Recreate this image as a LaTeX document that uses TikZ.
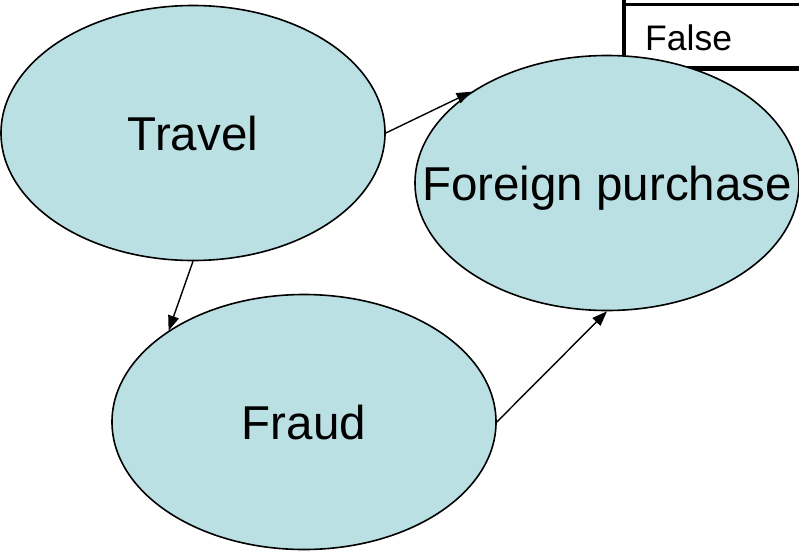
\documentclass[tikz,border=0pt]{standalone}
\usepackage{fontspec}
\setmainfont{Liberation Sans}
\usetikzlibrary{shapes.geometric,arrows.meta}
\definecolor{nodefill}{RGB}{186,224,227}
\tikzset{
  varnode/.style={ellipse, draw=black, line width=1.6pt, fill=nodefill,
    minimum width=384pt, minimum height=255pt, inner sep=0pt},
  varlabel/.style={inner sep=0pt, text height=34pt, text depth=0pt,
    font=\fontsize{47.5pt}{50pt}\selectfont},
  link/.style={line width=1.4pt, -{Triangle[length=15pt,width=11pt]}},
  cellrule/.style={line width=#1},
}
\begin{document}
\begin{tikzpicture}[x=1pt,y=-1pt]
  \useasboundingbox (0,0) rectangle (799,552);
  % table cell in the top right corner
  \draw[cellrule=2.5pt] (624,4.7) -- (799,4.7);
  \draw[cellrule=4pt] (624,0) -- (624,70);
  \draw[cellrule=4.5pt] (622,68.3) -- (799,68.3);
  \node[anchor=base west, inner sep=0pt, font=\fontsize{35.5pt}{38pt}\selectfont] (cellF) at (645,50) {False};
  % variables
  \node[varnode] (travel) at (193,133) {};
  \node[varnode] (foreign) at (607,183) {};
  \node[varnode] (fraud) at (304,422) {};
  \node[varlabel] (travelT) at (travel.center) {Travel};
  \node[varlabel] (foreignT) at (foreign.center) {Foreign purchase};
  \node[varlabel] (fraudT) at (fraud.center) {Fraud};
  % dependencies
  \draw[link] (travel.east) -- (foreign.146);
  \draw[link] (travel.south) -- (fraud.146.5);
  \draw[link] (fraud.east) -- (foreign.south);
\end{tikzpicture}
\end{document}
